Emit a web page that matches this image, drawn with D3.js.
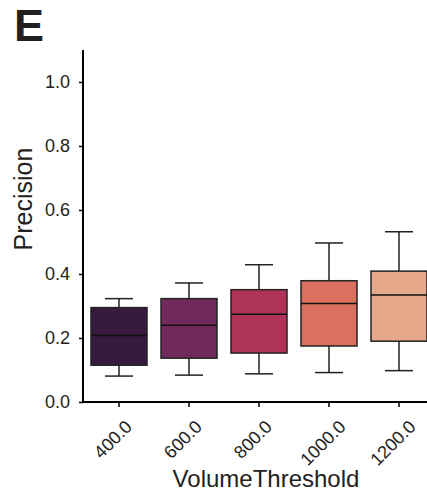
<!DOCTYPE html>
<html>
<head>
<meta charset="utf-8">
<script src="https://cdn.jsdelivr.net/npm/d3@7"></script>
<style>
html,body{margin:0;padding:0;background:#fff;}
svg{display:block;font-family:"Liberation Sans",Arial,sans-serif;}
</style>
</head>
<body>
<svg id="chart" width="427" height="497"></svg>
<script>
const categories = ["400.0", "600.0", "800.0", "1000.0", "1200.0"];
const whiskerLow = [0.081, 0.084, 0.088, 0.092, 0.098];
const q1 = [0.115, 0.137, 0.153, 0.175, 0.190];
const median = [0.208, 0.240, 0.274, 0.308, 0.334];
const q3 = [0.295, 0.323, 0.351, 0.379, 0.409];
const whiskerHigh = [0.323, 0.372, 0.429, 0.497, 0.532];
const colors = ["#361a3f", "#722a5c", "#b0335a", "#dc705f", "#e6a88b"];
const yTicks = [0.0, 0.2, 0.4, 0.6, 0.8, 1.0];

const svg = d3.select("#chart");
const x0 = 83, yBottom = 402, yTop = 50;
const x = d3.scaleBand().domain(categories).range([84, 434]).paddingInner(0).paddingOuter(0);
const y = d3.scaleLinear().domain([0, 1.1]).range([yBottom, yTop]);
const lineColor = "#222222";

const data = categories.map((c, i) => ({c, lo: whiskerLow[i], q1: q1[i], med: median[i], q3: q3[i], hi: whiskerHigh[i], color: colors[i]}));

const bw = x.bandwidth() * 0.8;
const g = svg.append("g");
data.forEach(d => {
  const cx = x(d.c) + x.bandwidth() / 2;
  g.append("line").attr("x1", cx).attr("x2", cx).attr("y1", y(d.q3)).attr("y2", y(d.hi)).attr("stroke", lineColor).attr("stroke-width", 1.5);
  g.append("line").attr("x1", cx).attr("x2", cx).attr("y1", y(d.q1)).attr("y2", y(d.lo)).attr("stroke", lineColor).attr("stroke-width", 1.5);
  g.append("line").attr("x1", cx - bw / 4).attr("x2", cx + bw / 4).attr("y1", y(d.hi)).attr("y2", y(d.hi)).attr("stroke", lineColor).attr("stroke-width", 1.5);
  g.append("line").attr("x1", cx - bw / 4).attr("x2", cx + bw / 4).attr("y1", y(d.lo)).attr("y2", y(d.lo)).attr("stroke", lineColor).attr("stroke-width", 1.5);
  g.append("rect").attr("x", cx - bw / 2).attr("y", y(d.q3)).attr("width", bw).attr("height", y(d.q1) - y(d.q3))
    .attr("fill", d.color).attr("stroke", lineColor).attr("stroke-width", 1.5);
  g.append("line").attr("x1", cx - bw / 2).attr("x2", cx + bw / 2).attr("y1", y(d.med)).attr("y2", y(d.med)).attr("stroke", "#111").attr("stroke-width", 1.5);
});

// Y axis
const yAxis = svg.append("g").attr("transform", `translate(${x0},0)`)
  .call(d3.axisLeft(y).tickValues(yTicks).tickFormat(d3.format(".1f")).tickSize(4).tickPadding(9).tickSizeOuter(0));
yAxis.select(".domain").remove();
yAxis.append("line").attr("x1", 0).attr("x2", 0).attr("y1", yTop).attr("y2", yBottom + 1).attr("stroke", "#000").attr("stroke-width", 2);
yAxis.selectAll(".tick line").attr("stroke", "#000").attr("stroke-width", 1.5);
yAxis.selectAll(".tick text").attr("font-size", 18).attr("fill", "#222").attr("font-family", "Liberation Sans, Arial, sans-serif");

// X axis
const xAxis = svg.append("g").attr("transform", `translate(0,${yBottom})`)
  .call(d3.axisBottom(x).tickSize(5).tickSizeOuter(0));
xAxis.select(".domain").remove();
xAxis.append("line").attr("x1", x0 - 1).attr("x2", 434).attr("y1", 0).attr("y2", 0).attr("stroke", "#000").attr("stroke-width", 2);
xAxis.selectAll(".tick line").attr("stroke", "#000").attr("stroke-width", 1.5);
xAxis.selectAll(".tick text")
  .attr("font-size", 18).attr("fill", "#222").attr("font-family", "Liberation Sans, Arial, sans-serif")
  .attr("text-anchor", "middle").attr("dominant-baseline", "central")
  .attr("y", 0).attr("dy", 0)
  .each(function() {
    const w = this.getComputedTextLength();
    const half = (w * 0.7071 + 13 * 0.7071) / 2;
    d3.select(this).attr("transform", `translate(-6,${17 + half}) rotate(-45)`);
  });

// labels
svg.append("text").attr("x", 266).attr("y", 487).attr("text-anchor", "middle")
  .attr("font-size", 24).attr("fill", "#222").text("VolumeThreshold");
svg.append("text").attr("transform", "translate(32,199) rotate(-90)").attr("text-anchor", "middle")
  .attr("font-size", 25).attr("fill", "#222").text("Precision");
svg.append("text").attr("x", 14).attr("y", 41).attr("font-size", 45).attr("font-weight", "bold").attr("fill", "#231f20").text("E");
</script>
</body>
</html>
